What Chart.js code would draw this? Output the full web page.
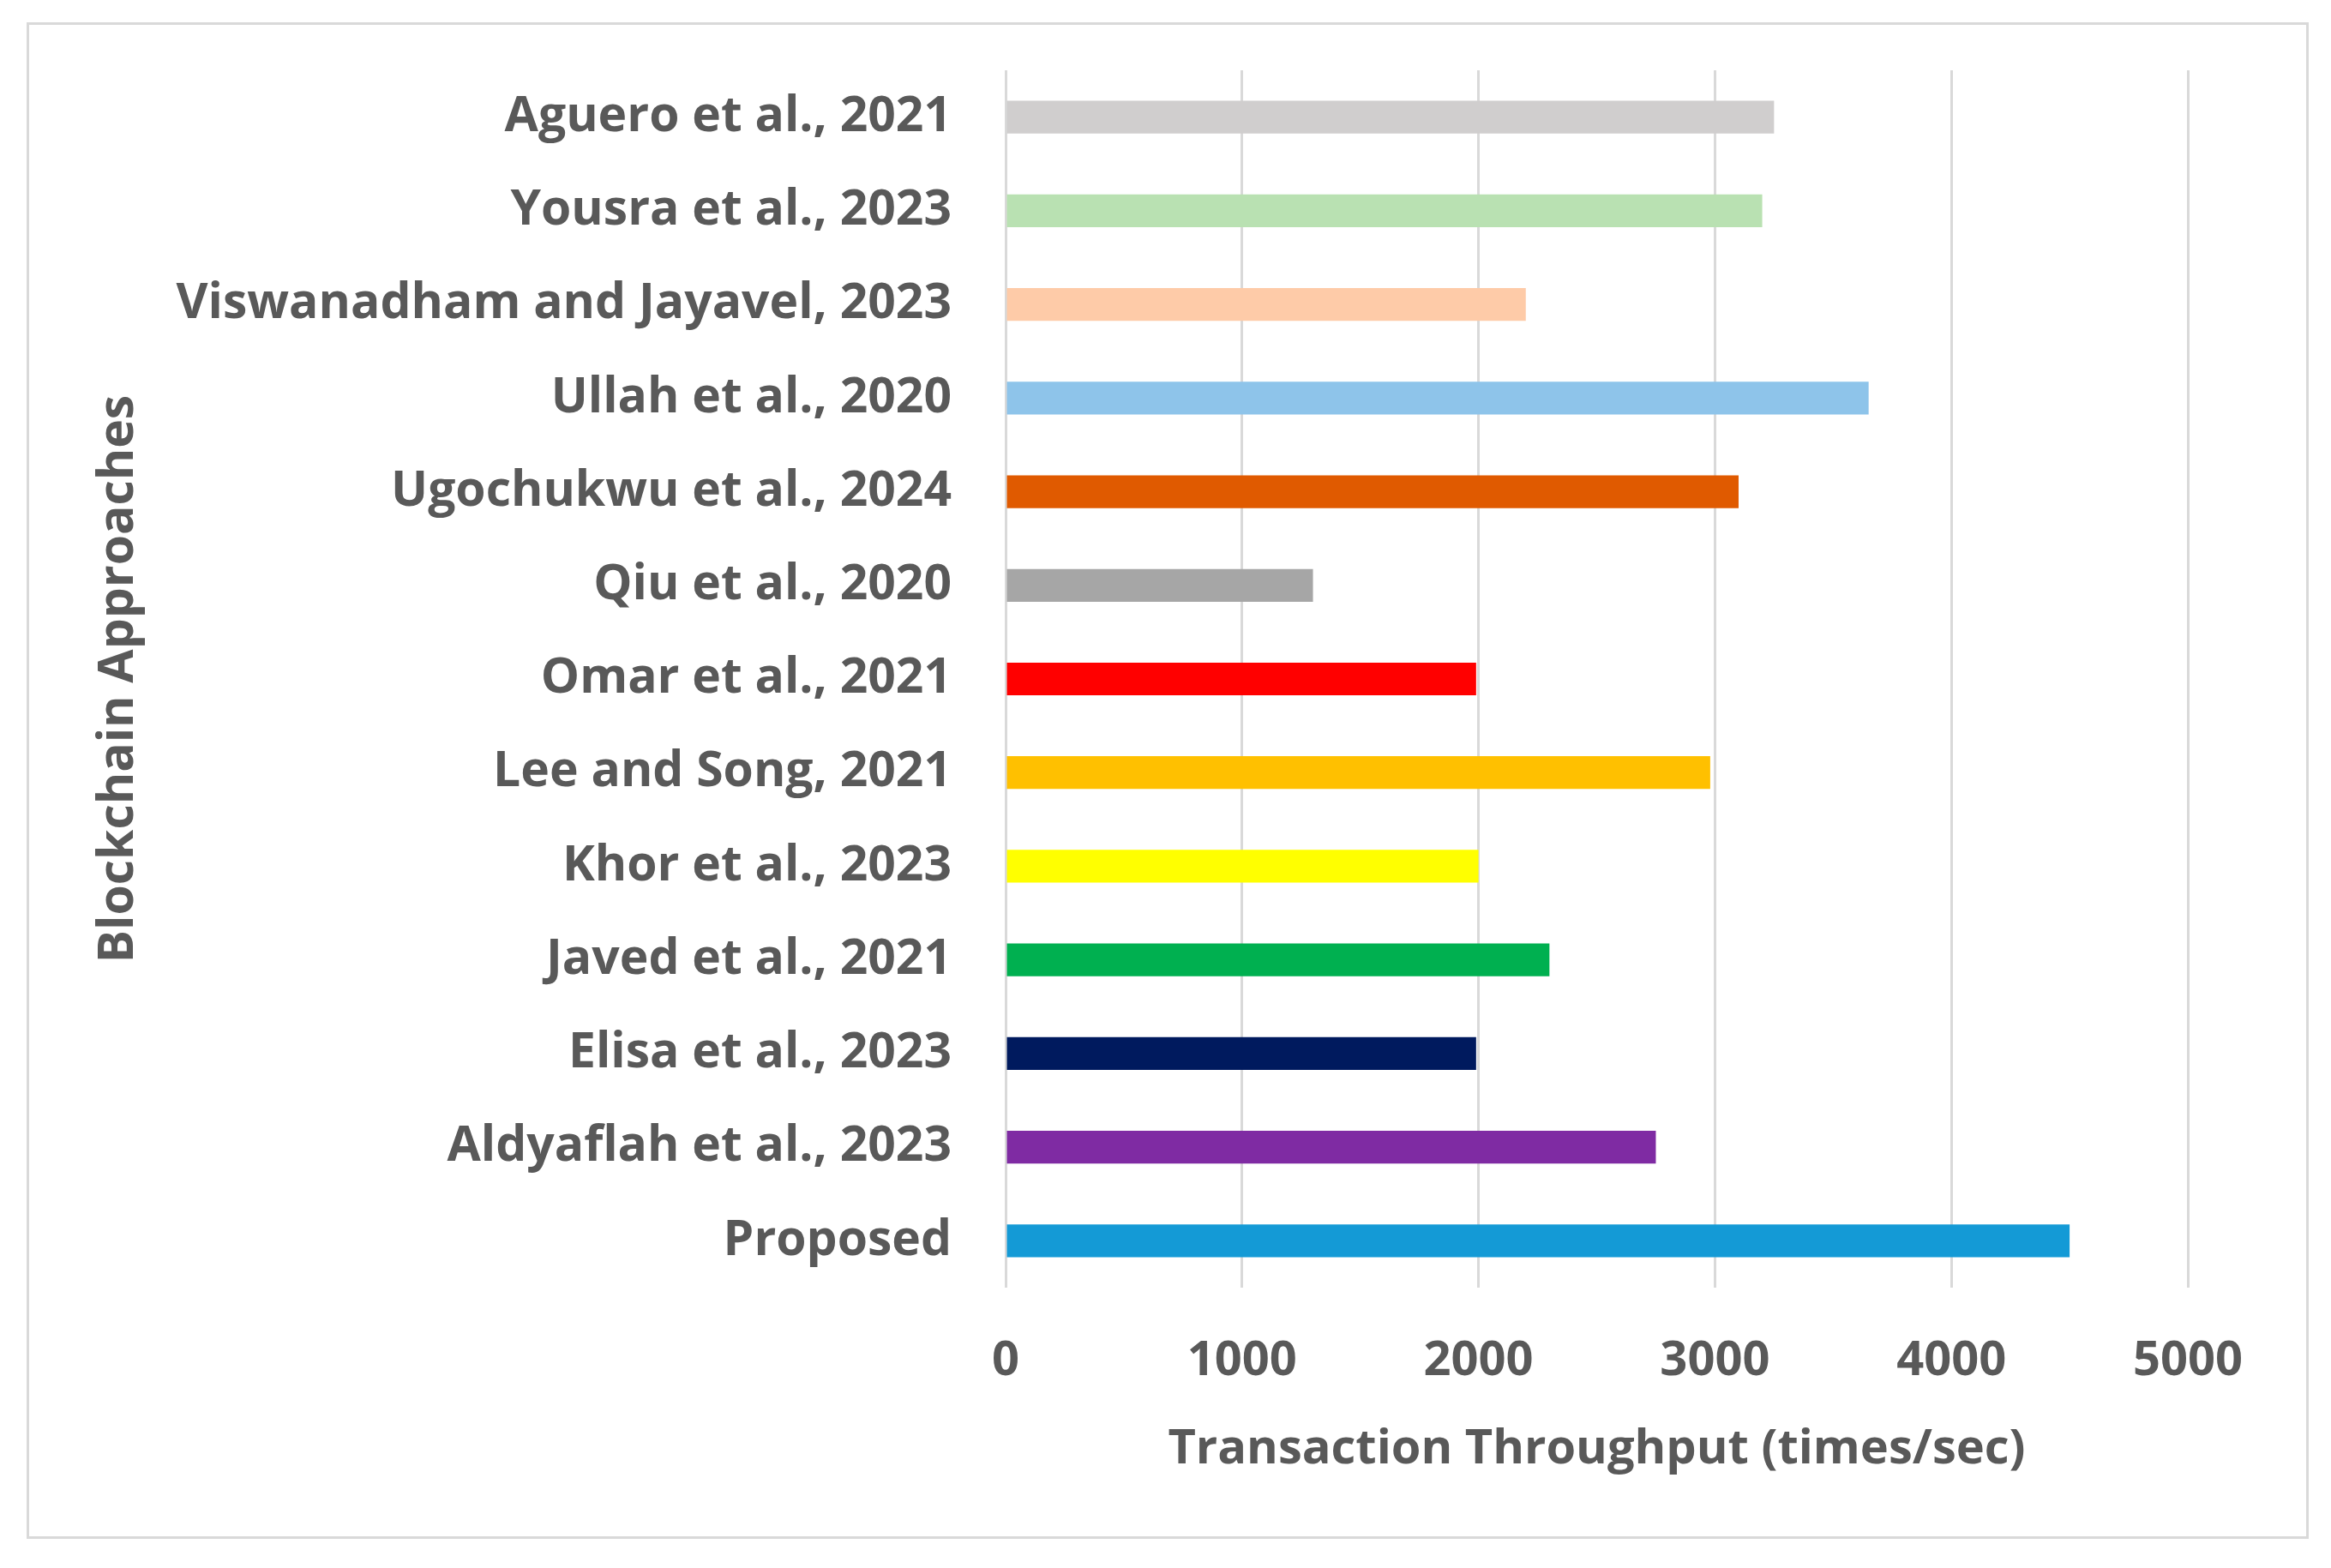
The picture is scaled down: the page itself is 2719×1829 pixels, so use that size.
<!DOCTYPE html>
<html>
<head>
<meta charset="utf-8">
<script src="https://cdn.jsdelivr.net/npm/chart.js@4"></script>
<style>
  html, body { margin: 0; padding: 0; background: #ffffff; }
  #frame {
    position: absolute; left: 31px; top: 26px;
    width: 2656px; height: 1763px;
    border: 3px solid #d9d9d9; background: #ffffff;
  }
</style>
</head>
<body>
<div id="frame"><canvas id="throughputChart"></canvas></div>
<script>
// Approaches, top to bottom as in the figure
const approaches = [
    "Aguero et al., 2021",
    "Yousra et al., 2023",
    "Viswanadham and Jayavel, 2023",
    "Ullah et al., 2020",
    "Ugochukwu et al., 2024",
    "Qiu et al., 2020",
    "Omar et al., 2021",
    "Lee and Song, 2021",
    "Khor et al., 2023",
    "Javed et al., 2021",
    "Elisa et al., 2023",
    "Aldyaflah et al., 2023",
    "Proposed"
];
const throughput = [3250, 3200, 2200, 3650, 3100, 1300, 1990, 2980, 2000, 2300, 1990, 2750, 4500];
const barColors = [
    "#d0cece", "#b9e1b2", "#fecba8", "#8ec4ea", "#e05a00", "#a6a6a6", "#ff0000",
    "#ffc000", "#ffff00", "#00b050", "#001a5e", "#7f2ba3", "#149ad6"
];
const xTicks = [0, 1000, 2000, 3000, 4000, 5000];

const textColor = "#595959";
const fontFamily = "'Open Sans', sans-serif";

const ctx = document.getElementById("throughputChart").getContext("2d");
const throughputChart = new Chart(ctx, {
    type: "bar",
    data: {
        labels: approaches,
        datasets: [{
            data: throughput,
            backgroundColor: barColors,
            borderWidth: 0,
            categoryPercentage: 1,
            barPercentage: 0.35
        }]
    },
    options: {
        indexAxis: "y",
        responsive: true,
        maintainAspectRatio: false,
        devicePixelRatio: 1,
        animation: false,
        layout: { padding: { top: 53, right: 138, bottom: 0, left: 0 } },
        plugins: {
            legend: { display: false },
            tooltip: { enabled: false }
        },
        scales: {
            x: {
                min: 0,
                max: 5000,
                afterBuildTicks: scale => { scale.ticks = xTicks.map(v => ({ value: v })); },
                afterFit: scale => { scale.height = 290; },
                grid: { color: "#d9d9d9", lineWidth: 3, drawTicks: false },
                border: { display: false },
                ticks: {
                    padding: 52,
                    color: textColor,
                    callback: value => String(value),
                    font: { family: fontFamily, size: 56, weight: "bold" }
                },
                title: {
                    display: true,
                    text: "Transaction Throughput (times/sec)",
                    color: textColor,
                    padding: { top: 0, bottom: 67 },
                    font: { family: fontFamily, size: 56, weight: "bold" }
                }
            },
            y: {
                afterFit: scale => {
                    scale.width = 1139;
                    // keep tick padding from pushing the plot area down
                    scale.paddingTop = 0;
                    scale.paddingBottom = 0;
                },
                grid: { display: false, drawTicks: false },
                border: { display: false },
                ticks: {
                    padding: 63,
                    color: textColor,
                    font: { family: fontFamily, size: 57, weight: "bold" }
                },
                title: {
                    display: true,
                    text: "Blockchain Approaches",
                    color: textColor,
                    padding: { top: 71, bottom: 0 },
                    font: { family: fontFamily, size: 57, weight: "bold" }
                }
            }
        }
    }
});
</script>
</body>
</html>
